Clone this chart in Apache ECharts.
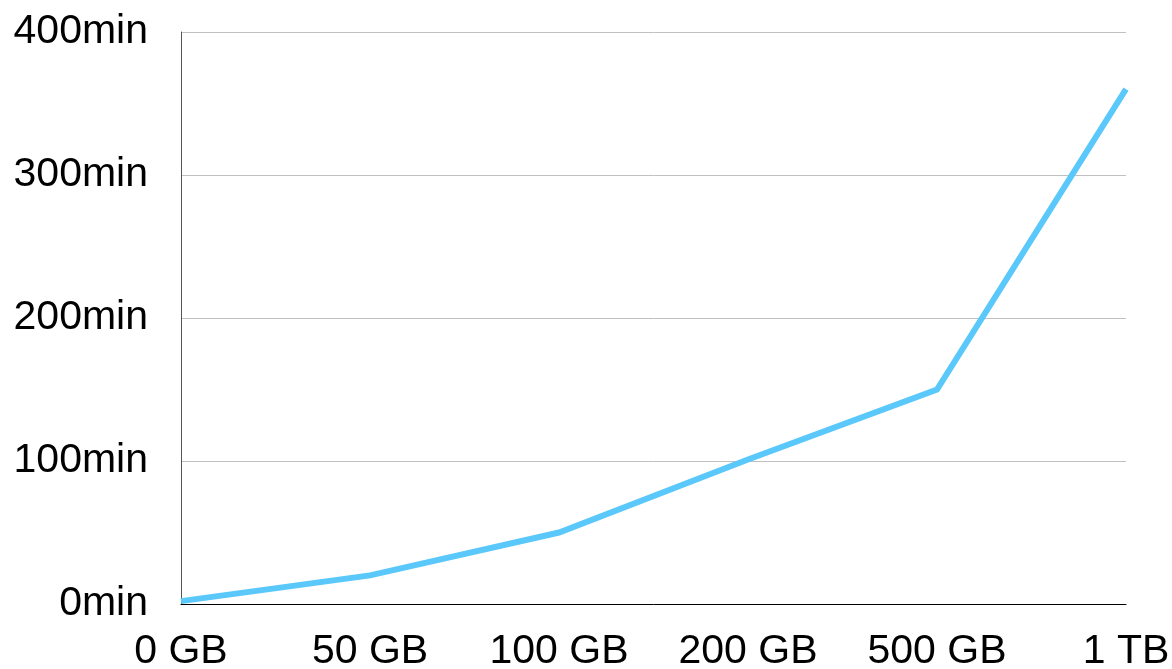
<!DOCTYPE html>
<html><head><meta charset="utf-8">
<script src="https://cdn.jsdelivr.net/npm/echarts@6/dist/echarts.min.js"></script>
<style>html,body{margin:0;padding:0;background:#fff}#c{width:1172px;height:669px}</style>
</head><body><div id="c"></div>
<script>
const categories = ['0 GB', '50 GB', '100 GB', '200 GB', '500 GB', '1 TB'];
const minutes = [2, 20, 50, 101, 150, 360];
const yTicks = [0, 100, 200, 300, 400];

const chart = echarts.init(document.getElementById('c'), null, {renderer: 'canvas'});
chart.setOption({
  animation: false,
  grid: {left: 181, right: 46, top: 32, bottom: 65, containLabel: false, outerBoundsMode: 'none'},
  xAxis: {
    type: 'category', data: categories, boundaryGap: false,
    axisLine: {lineStyle: {color: '#000', width: 1}},
    axisTick: {show: false},
    axisLabel: {color: '#000', fontSize: 41, fontFamily: 'Liberation Sans, Arial, sans-serif', margin: 27, interval: 0},
    splitLine: {show: false}
  },
  yAxis: {
    type: 'value', min: yTicks[0], max: yTicks[yTicks.length - 1], interval: 100,
    axisLine: {show: true, lineStyle: {color: '#555', width: 1}},
    axisTick: {show: false},
    axisLabel: {color: '#000', fontSize: 41, fontFamily: 'Liberation Sans, Arial, sans-serif', margin: 33, formatter: v => v + 'min'},
    splitLine: {lineStyle: {color: '#c0c0c0', width: 1}}
  },
  series: [{
    type: 'line', data: minutes, symbol: 'none',
    lineStyle: {color: '#5AC8FA', width: 6, cap: 'butt', join: 'miter'}
  }]
});
</script></body></html>
